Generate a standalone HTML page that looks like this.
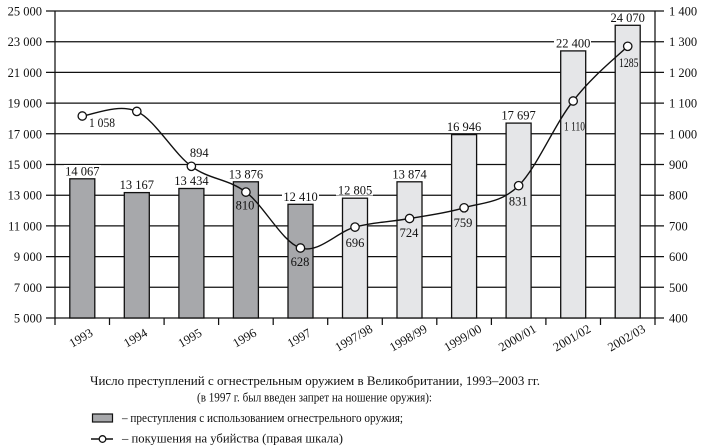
<!DOCTYPE html>
<html><head><meta charset="utf-8"><style>
html,body{margin:0;padding:0;background:#fff;}
svg{display:block;}
text{font-family:"Liberation Serif","Noto Serif CJK SC",serif;fill:#111;}
</style></head><body>
<svg width="706" height="447" viewBox="0 0 706 447" xmlns="http://www.w3.org/2000/svg">
<g stroke="#111" stroke-width="1.25" fill="none">
<line x1="46" y1="11" x2="664" y2="11"/>
<line x1="46" y1="41.7" x2="664" y2="41.7"/>
<line x1="46" y1="72.4" x2="664" y2="72.4"/>
<line x1="46" y1="103.1" x2="664" y2="103.1"/>
<line x1="46" y1="133.8" x2="664" y2="133.8"/>
<line x1="46" y1="164.5" x2="664" y2="164.5"/>
<line x1="46" y1="195.2" x2="664" y2="195.2"/>
<line x1="46" y1="225.9" x2="664" y2="225.9"/>
<line x1="46" y1="256.6" x2="664" y2="256.6"/>
<line x1="46" y1="287.3" x2="664" y2="287.3"/>
<line x1="46" y1="318" x2="664" y2="318"/>
<line x1="55" y1="11" x2="55" y2="325"/>
<line x1="655" y1="11" x2="655" y2="325"/>
<line x1="109.5" y1="318" x2="109.5" y2="325"/>
<line x1="164.1" y1="318" x2="164.1" y2="325"/>
<line x1="218.6" y1="318" x2="218.6" y2="325"/>
<line x1="273.2" y1="318" x2="273.2" y2="325"/>
<line x1="327.7" y1="318" x2="327.7" y2="325"/>
<line x1="382.3" y1="318" x2="382.3" y2="325"/>
<line x1="436.8" y1="318" x2="436.8" y2="325"/>
<line x1="491.4" y1="318" x2="491.4" y2="325"/>
<line x1="545.9" y1="318" x2="545.9" y2="325"/>
<line x1="600.5" y1="318" x2="600.5" y2="325"/>
</g>
<g stroke="#111" stroke-width="1.3">
<rect x="69.8" y="178.8" width="25" height="139.2" fill="#a7a8ab"/>
<rect x="124.3" y="192.6" width="25" height="125.4" fill="#a7a8ab"/>
<rect x="178.9" y="188.5" width="25" height="129.5" fill="#a7a8ab"/>
<rect x="233.4" y="181.8" width="25" height="136.2" fill="#a7a8ab"/>
<rect x="288" y="204.3" width="25" height="113.7" fill="#a7a8ab"/>
<rect x="342.5" y="198.2" width="25" height="119.8" fill="#e5e6e8"/>
<rect x="397" y="181.8" width="25" height="136.2" fill="#e5e6e8"/>
<rect x="451.6" y="134.6" width="25" height="183.4" fill="#e5e6e8"/>
<rect x="506.1" y="123.1" width="25" height="194.9" fill="#e5e6e8"/>
<rect x="560.7" y="50.9" width="25" height="267.1" fill="#e5e6e8"/>
<rect x="615.2" y="25.3" width="25" height="292.7" fill="#e5e6e8"/>
</g>
<g fill="#fff">
<rect x="64" y="165" width="37" height="11"/>
<rect x="118" y="179" width="37" height="11"/>
<rect x="173" y="175" width="37" height="11"/>
<rect x="227" y="168" width="37" height="11"/>
<rect x="282" y="190.5" width="37" height="11"/>
<rect x="336" y="184.5" width="37" height="11"/>
<rect x="391" y="168" width="37" height="11"/>
<rect x="445" y="121" width="37" height="11"/>
<rect x="500" y="109.5" width="37" height="11"/>
<rect x="554" y="37.5" width="37" height="11"/>
<rect x="609" y="12" width="37" height="11"/>
</g>
<g font-size="12.5" text-anchor="middle">
<text x="82.3" y="175.3">14 067</text>
<text x="136.8" y="189.1">13 167</text>
<text x="191.4" y="185">13 434</text>
<text x="245.9" y="178.3">13 876</text>
<text x="300.5" y="200.8">12 410</text>
<text x="355" y="194.7">12 805</text>
<text x="409.5" y="178.3">13 874</text>
<text x="464.1" y="131.1">16 946</text>
<text x="518.6" y="119.6">17 697</text>
<text x="573.2" y="47.4">22 400</text>
<text x="627.7" y="21.8">24 070</text>
</g>
<path d="M82.27,116 C91.36,115.23 118.64,103.02 136.82,111.4 C155,119.78 173.18,152.85 191.36,166.3 C209.54,179.75 227.73,178.48 245.91,192.1 C264.09,205.72 282.27,242.17 300.45,248 C318.63,253.83 336.82,232.02 355,227.1 C373.18,222.18 391.37,221.72 409.55,218.5 C427.73,215.28 445.91,213.27 464.09,207.8 C482.27,202.33 500.46,203.67 518.64,185.7 C536.82,167.73 555,123.23 573.18,101 C591.36,76.77 618.64,55.25 627.73,46.3" fill="none" stroke="#111" stroke-width="1.4"/>
<g fill="#fff" stroke="#111" stroke-width="1.3">
<circle cx="82.27" cy="116" r="4.2"/>
<circle cx="136.82" cy="111.4" r="4.2"/>
<circle cx="191.36" cy="166.3" r="4.2"/>
<circle cx="245.91" cy="192.1" r="4.2"/>
<circle cx="300.45" cy="248" r="4.2"/>
<circle cx="355" cy="227.1" r="4.2"/>
<circle cx="409.55" cy="218.5" r="4.2"/>
<circle cx="464.09" cy="207.8" r="4.2"/>
<circle cx="518.64" cy="185.7" r="4.2"/>
<circle cx="573.18" cy="101" r="4.2"/>
<circle cx="627.73" cy="46.3" r="4.2"/>
</g>
<g font-size="12.5">
<text x="89" y="127" textLength="26" lengthAdjust="spacingAndGlyphs">1 058</text>
<text x="199.2" y="157" text-anchor="middle">894</text>
<text x="245" y="209.5" text-anchor="middle">810</text>
<text x="300" y="266" text-anchor="middle">628</text>
<text x="355" y="247" text-anchor="middle">696</text>
<text x="409" y="237" text-anchor="middle">724</text>
<text x="463" y="227" text-anchor="middle">759</text>
<text x="518.3" y="205.5" text-anchor="middle">831</text>
<text x="564" y="130.5" textLength="21" lengthAdjust="spacingAndGlyphs">1 110</text>
<text x="619" y="67" textLength="19.5" lengthAdjust="spacingAndGlyphs">1285</text>
</g>
<g font-size="12.5" text-anchor="end">
<text x="42" y="15.5">25 000</text>
<text x="42" y="46.2">23 000</text>
<text x="42" y="76.9">21 000</text>
<text x="42" y="107.6">19 000</text>
<text x="42" y="138.3">17 000</text>
<text x="42" y="169">15 000</text>
<text x="42" y="199.7">13 000</text>
<text x="42" y="230.4">11 000</text>
<text x="42" y="261.1">9 000</text>
<text x="42" y="291.8">7 000</text>
<text x="42" y="322.5">5 000</text>
</g>
<g font-size="12.5">
<text x="669" y="15.5">1 400</text>
<text x="669" y="46.2">1 300</text>
<text x="669" y="76.9">1 200</text>
<text x="669" y="107.6">1 100</text>
<text x="669" y="138.3">1 000</text>
<text x="669" y="169">900</text>
<text x="669" y="199.7">800</text>
<text x="669" y="230.4">700</text>
<text x="669" y="261.1">600</text>
<text x="669" y="291.8">500</text>
<text x="669" y="322.5">400</text>
</g>
<g font-size="12.5" text-anchor="middle">
<text x="83" y="341.5" transform="rotate(-30 83 341.5)">1993</text>
<text x="137.5" y="341.5" transform="rotate(-30 137.5 341.5)">1994</text>
<text x="192" y="341.5" transform="rotate(-30 192 341.5)">1995</text>
<text x="246.6" y="341.5" transform="rotate(-30 246.6 341.5)">1996</text>
<text x="301.2" y="341.5" transform="rotate(-30 301.2 341.5)">1997</text>
<text x="355.8" y="341.5" transform="rotate(-30 355.8 341.5)">1997/98</text>
<text x="410.3" y="341.5" transform="rotate(-30 410.3 341.5)">1998/99</text>
<text x="464.8" y="341.5" transform="rotate(-30 464.8 341.5)">1999/00</text>
<text x="519.4" y="341.5" transform="rotate(-30 519.4 341.5)">2000/01</text>
<text x="573.9" y="341.5" transform="rotate(-30 573.9 341.5)">2001/02</text>
<text x="628.5" y="341.5" transform="rotate(-30 628.5 341.5)">2002/03</text>
</g>
<g font-size="13">
<text x="90" y="385" textLength="450" lengthAdjust="spacingAndGlyphs">Число преступлений с огнестрельным оружием в Великобритании, 1993–2003 гг.</text>
<text x="197" y="401.5" textLength="235" lengthAdjust="spacingAndGlyphs">(в 1997 г. был введен запрет на ношение оружия):</text>
<text x="122" y="422" textLength="281" lengthAdjust="spacingAndGlyphs">– преступления с использованием огнестрельного оружия;</text>
<text x="122" y="442.5" textLength="221" lengthAdjust="spacingAndGlyphs">– покушения на убийства (правая шкала)</text>
</g>
<rect x="92.5" y="414" width="20" height="8" fill="#a7a8ab" stroke="#111" stroke-width="1.2"/>
<line x1="91" y1="439" x2="113" y2="439" stroke="#111" stroke-width="1.6"/>
<circle cx="102.5" cy="439" r="3.3" fill="#fff" stroke="#111" stroke-width="1.3"/>
</svg>
</body></html>
